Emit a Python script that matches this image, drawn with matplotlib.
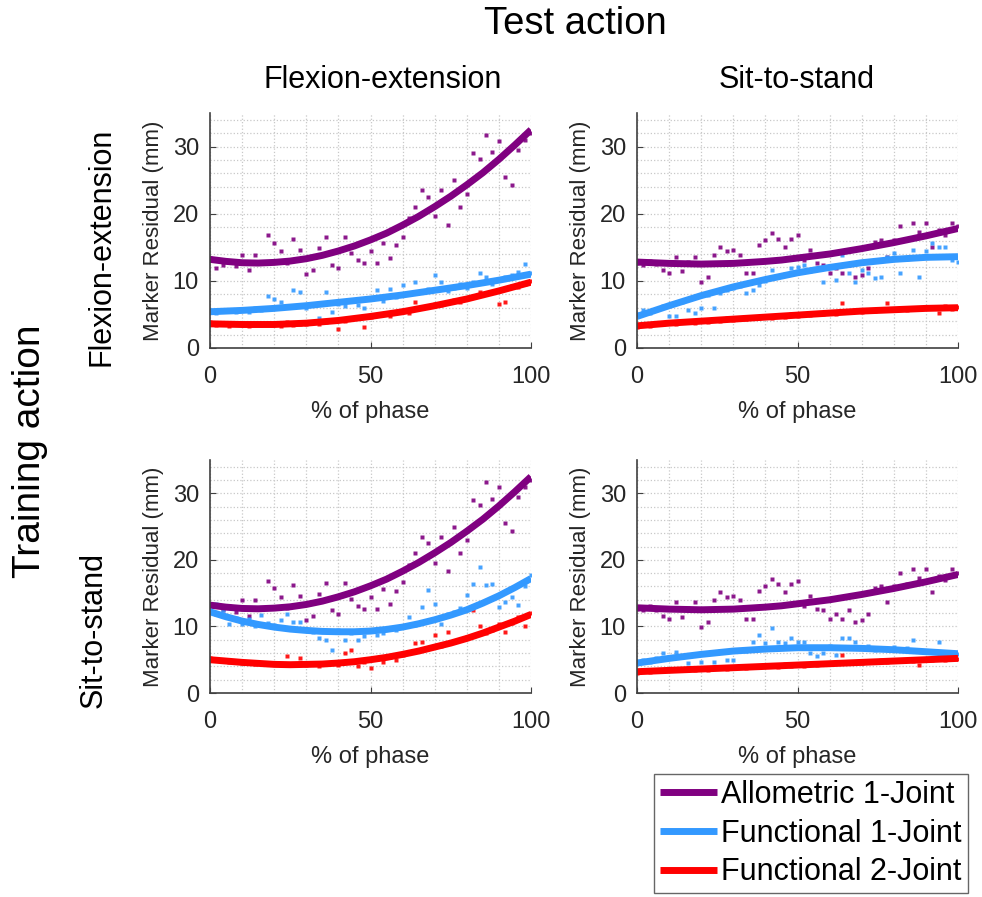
import numpy as np
import matplotlib
matplotlib.use('Agg')
import matplotlib.pyplot as plt
from matplotlib.ticker import MultipleLocator

plt.rcParams['font.family'] = ['Liberation Sans', 'DejaVu Sans']

# x positions (% of phase)
fit_x = list(range(0, 101, 5))
pts_x = list(range(0, 101, 2))

# fitted curves (x = 0, 5, ..., 100)
allo_fe_fit = [13.2, 12.9, 12.7, 12.65, 12.75, 12.95, 13.3, 13.8, 14.45, 15.2, 16.1,
               17.1, 18.3, 19.6, 21.05, 22.6, 24.3, 26.1, 28.1, 30.25, 32.5]
allo_sts_fit = [12.8, 12.7, 12.6, 12.55, 12.5, 12.55, 12.6, 12.75, 12.9, 13.1, 13.4,
                13.7, 14.0, 14.4, 14.8, 15.25, 15.7, 16.2, 16.7, 17.25, 17.8]
f1_fe_fe_fit = [5.4, 5.5, 5.6, 5.75, 5.9, 6.1, 6.3, 6.55, 6.8, 7.05, 7.3,
                7.6, 7.9, 8.25, 8.6, 8.95, 9.3, 9.7, 10.1, 10.55, 11.0]
f2_fe_fe_fit = [3.6, 3.55, 3.5, 3.5, 3.5, 3.6, 3.7, 3.9, 4.1, 4.4, 4.7,
                5.05, 5.4, 5.85, 6.3, 6.8, 7.3, 7.9, 8.5, 9.15, 9.8]
f1_fe_sts_fit = [4.7, 5.5, 6.3, 7.05, 7.8, 8.45, 9.1, 9.65, 10.2, 10.7, 11.2,
                 11.6, 12.0, 12.35, 12.7, 12.95, 13.2, 13.35, 13.5, 13.55, 13.6]
f2_fe_sts_fit = [3.3, 3.5, 3.7, 3.85, 4.0, 4.15, 4.3, 4.45, 4.6, 4.75, 4.9,
                 5.05, 5.2, 5.35, 5.5, 5.6, 5.7, 5.8, 5.9, 5.95, 6.0]
f1_sts_fe_fit = [12.2, 11.45, 10.8, 10.3, 9.9, 9.6, 9.4, 9.25, 9.2, 9.2, 9.3,
                 9.55, 9.9, 10.4, 11.0, 11.7, 12.5, 13.5, 14.6, 15.85, 17.2]
f2_sts_fe_fit = [5.0, 4.8, 4.6, 4.45, 4.3, 4.25, 4.3, 4.35, 4.5, 4.7, 5.0,
                 5.35, 5.8, 6.3, 6.9, 7.5, 8.2, 9.0, 9.9, 10.8, 11.8]
f1_sts_sts_fit = [4.5, 4.85, 5.2, 5.5, 5.8, 6.05, 6.3, 6.45, 6.6, 6.7, 6.8,
                  6.8, 6.8, 6.75, 6.7, 6.6, 6.5, 6.35, 6.2, 6.05, 5.9]
f2_sts_sts_fit = [3.2, 3.3, 3.4, 3.5, 3.6, 3.7, 3.8, 3.9, 4.0, 4.1, 4.2,
                  4.3, 4.4, 4.5, 4.6, 4.7, 4.8, 4.9, 5.0, 5.1, 5.2]

# raw residuals (x = 0, 2, ..., 100)
allo_fe_pts = [13.4, 11.9, 12.4, 13.0, 12.2, 13.9, 11.6, 13.9, 12.6, 16.8, 15.7,
               14.4, 12.7, 16.2, 14.6, 11.0, 11.6, 14.9, 16.5, 12.4, 11.9,
               16.5, 14.1, 13.1, 12.6, 14.4, 12.6, 15.6, 13.4, 15.3, 16.6,
               19.3, 21.0, 23.5, 22.5, 19.6, 23.5, 18.3, 25.0, 21.0, 23.0,
               29.0, 28.2, 31.7, 29.2, 30.9, 25.5, 24.3, 29.5, 31.0, 32.0]
allo_sts_pts = [12.6, 12.4, 13.0, 12.5, 11.6, 11.1, 13.6, 11.4, 12.8, 13.6, 9.9,
                10.6, 13.9, 15.1, 14.4, 14.6, 13.9, 11.1, 11.1, 15.3, 16.1,
                17.1, 16.3, 15.1, 16.3, 16.8, 13.1, 14.6, 12.6, 12.4, 11.1,
                11.9, 11.1, 12.4, 10.6, 10.9, 11.9, 15.8, 16.1, 13.6, 16.1,
                18.1, 16.3, 18.6, 17.3, 18.6, 15.1, 17.6, 16.9, 18.6, 18.1]
f1_fe_fe_pts = [5.6, 5.2, 5.5, 5.7, 5.3, 5.8, 5.4, 5.9, 5.6, 7.7, 7.3,
                6.9, 6.2, 8.7, 8.3, 6.0, 6.5, 4.5, 8.4, 5.4, 6.6,
                6.2, 7.2, 6.4, 6.0, 7.5, 8.7, 7.0, 8.8, 7.6, 9.4,
                8.1, 9.9, 8.4, 8.8, 10.9, 9.8, 8.5, 9.0, 9.5, 9.0,
                9.8, 11.1, 10.6, 9.6, 10.2, 10.5, 10.8, 11.3, 12.5, 11.2]
f2_fe_fe_pts = [3.8, 3.4, 3.6, 3.3, 3.7, 3.5, 3.3, 3.6, 3.4, 3.7, 3.5,
                3.3, 3.8, 3.4, 3.6, 3.5, 3.9, 3.6, 3.8, 4.2, 2.8,
                4.0, 4.3, 4.5, 3.2, 4.6, 4.9, 5.1, 4.8, 5.4, 5.6,
                5.2, 6.9, 6.0, 6.2, 6.5, 6.4, 6.9, 7.1, 6.8, 7.5,
                7.7, 8.4, 8.1, 8.3, 6.5, 6.8, 9.3, 9.1, 9.6, 10.0]
f1_fe_sts_pts = [5.0, 5.7, 5.2, 5.8, 6.2, 4.7, 4.7, 6.8, 5.7, 5.2, 5.9,
                 7.9, 5.9, 8.2, 8.6, 9.0, 9.3, 8.2, 8.7, 9.4, 10.0,
                 11.6, 10.5, 11.0, 11.9, 12.1, 12.4, 11.5, 11.8, 9.9, 12.2,
                 10.1, 13.9, 11.1, 9.9, 11.6, 11.1, 10.4, 10.6, 13.6, 14.1,
                 11.1, 13.3, 14.6, 10.6, 14.4, 15.6, 15.1, 15.1, 13.1, 12.8]
f2_fe_sts_pts = [3.2, 3.6, 3.3, 3.7, 3.5, 3.9, 3.6, 3.8, 4.0, 3.7, 4.1,
                 3.9, 4.2, 4.0, 4.4, 4.2, 4.5, 4.3, 4.6, 4.4, 4.7,
                 4.5, 4.8, 4.6, 5.0, 4.8, 5.1, 4.9, 5.2, 5.0, 5.3,
                 5.1, 6.7, 5.3, 5.6, 5.4, 5.7, 5.5, 5.8, 6.7, 5.6,
                 5.9, 5.7, 6.0, 5.8, 6.1, 5.9, 5.2, 6.2, 5.8, 6.1]
f1_sts_fe_pts = [12.5, 13.4, 12.4, 10.4, 11.3, 10.4, 11.1, 10.0, 11.7, 10.5, 10.2,
                 10.9, 11.9, 10.7, 10.7, 9.6, 9.1, 8.2, 8.0, 6.5, 9.4,
                 8.0, 9.0, 8.0, 8.5, 9.5, 8.7, 9.0, 9.8, 9.5, 10.1,
                 11.4, 10.2, 12.9, 15.4, 13.4, 10.4, 11.9, 12.2, 12.8, 14.7,
                 16.4, 18.9, 16.2, 16.4, 12.9, 13.7, 14.4, 13.2, 16.0, 17.8]
f2_sts_fe_pts = [5.2, 4.9, 5.0, 4.7, 4.8, 4.5, 4.6, 4.4, 4.5, 4.3, 4.4,
                 4.2, 5.5, 4.3, 5.2, 4.2, 4.4, 4.1, 4.3, 4.5, 4.2,
                 6.0, 6.5, 4.0, 4.7, 3.7, 5.1, 4.7, 5.4, 5.0, 5.7,
                 6.0, 7.5, 7.7, 6.7, 8.7, 7.1, 9.2, 7.8, 8.0, 8.4,
                 12.4, 10.0, 9.0, 9.5, 10.4, 9.2, 10.5, 11.4, 10.1, 12.0]
f1_sts_sts_pts = [4.7, 5.0, 4.6, 5.2, 6.0, 5.4, 6.2, 5.6, 4.5, 5.9, 4.7,
                  6.0, 4.7, 6.3, 5.0, 5.0, 6.5, 6.3, 7.7, 8.7, 7.5,
                  9.7, 7.7, 7.5, 8.2, 7.7, 7.7, 6.0, 5.5, 6.0, 7.0,
                  5.7, 8.2, 8.3, 7.7, 6.9, 7.0, 6.5, 6.8, 6.6, 6.9,
                  6.4, 6.7, 8.0, 6.5, 6.3, 6.1, 7.7, 6.0, 6.2, 5.8]
f2_sts_sts_pts = [3.0, 3.4, 3.2, 3.5, 3.3, 3.6, 3.4, 3.5, 3.7, 3.4, 3.8,
                  3.5, 3.7, 3.9, 3.6, 3.8, 4.0, 3.7, 4.1, 3.9, 4.0,
                  4.2, 3.9, 4.3, 4.1, 4.3, 4.1, 4.4, 4.2, 4.5, 4.3,
                  4.6, 5.7, 4.5, 4.7, 4.5, 4.8, 4.6, 4.9, 4.7, 4.9,
                  4.8, 5.0, 4.8, 4.2, 5.1, 4.9, 5.2, 5.0, 5.3, 5.1]

series_names = ['Allometric 1-Joint', 'Functional 1-Joint', 'Functional 2-Joint']
colors = ['#800080', '#3399ff', '#ff0000']
actions = ['Flexion-extension', 'Sit-to-stand']

# panels[row = training][col = test] -> (pts, fit) per series
panels = [
    [[(allo_fe_pts, allo_fe_fit), (f1_fe_fe_pts, f1_fe_fe_fit), (f2_fe_fe_pts, f2_fe_fe_fit)],
     [(allo_sts_pts, allo_sts_fit), (f1_fe_sts_pts, f1_fe_sts_fit), (f2_fe_sts_pts, f2_fe_sts_fit)]],
    [[(allo_fe_pts, allo_fe_fit), (f1_sts_fe_pts, f1_sts_fe_fit), (f2_sts_fe_pts, f2_sts_fe_fit)],
     [(allo_sts_pts, allo_sts_fit), (f1_sts_sts_pts, f1_sts_sts_fit), (f2_sts_sts_pts, f2_sts_sts_fit)]],
]

W, H = 982, 897
fig = plt.figure(figsize=(W / 100, H / 100), dpi=100)

col_px = [(210, 531), (637, 958)]
row_px = [(113, 348), (460, 693)]

handles = []
for r in range(2):
    for c in range(2):
        x0, x1 = col_px[c]
        y0, y1 = row_px[r]
        ax = fig.add_axes([x0 / W, 1 - y1 / H, (x1 - x0) / W, (y1 - y0) / H])
        for k, (pts, fit) in enumerate(panels[r][c]):
            ax.plot(pts_x, pts, 's', ms=3.0, color=colors[k], mec='none', alpha=0.9)
        for k, (pts, fit) in enumerate(panels[r][c]):
            ln, = ax.plot(fit_x, fit, '-', lw=5, color=colors[k], solid_capstyle='butt')
            if r == 0 and c == 0:
                handles.append(ln)
        ax.set_xlim(0, 100)
        ax.set_ylim(0, 35)
        ax.set_xticks([0, 50, 100])
        ax.set_yticks([0, 10, 20, 30])
        ax.xaxis.set_minor_locator(MultipleLocator(10))
        ax.yaxis.set_minor_locator(MultipleLocator(2))
        ax.grid(True, which='both', ls=':', color='#c8c8c8', lw=0.9)
        ax.set_axisbelow(True)
        for s in ['top', 'right']:
            ax.spines[s].set_visible(False)
        for s in ['left', 'bottom']:
            ax.spines[s].set_color('#404040')
            ax.spines[s].set_linewidth(1.2)
        ax.tick_params(which='major', direction='in', length=4, labelsize=17,
                       colors='#404040', labelcolor='#262626', pad=8)
        ax.tick_params(axis='x', which='major', pad=13)
        ax.tick_params(which='minor', length=0)
        ax.set_xlabel('% of phase', fontsize=17, color='#262626', labelpad=9)
        ax.set_ylabel('Marker Residual (mm)', fontsize=16, color='#262626', labelpad=6)

# column / row titles
fig.text(575 / W, 1 - 24 / H, 'Test action', fontsize=27.5, ha='center', va='center')
fig.text(383 / W, 1 - 80 / H, actions[0], fontsize=22, ha='center', va='center')
fig.text(797 / W, 1 - 80 / H, actions[1], fontsize=22, ha='center', va='center')
fig.text(30 / W, 1 - 451 / H, 'Training action', fontsize=28, ha='center', va='center',
         rotation=90)
fig.text(101 / W, 1 - 247 / H, actions[0], fontsize=22, ha='center', va='center', rotation=90)
fig.text(94 / W, 1 - 630 / H, actions[1], fontsize=22, ha='center', va='center', rotation=90)

leg = fig.legend(handles, series_names, loc='upper right',
                 bbox_to_anchor=(968 / W, 1 - 774 / H), fontsize=22, frameon=True,
                 fancybox=False, edgecolor='#404040', handlelength=1.85,
                 handletextpad=0.15, borderpad=0.2, labelspacing=0.28, borderaxespad=0)
leg.get_frame().set_linewidth(1.0)

fig.savefig('out.png', dpi=100)
